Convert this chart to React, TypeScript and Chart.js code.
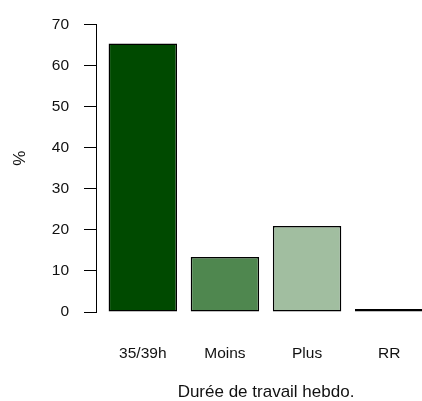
import React, { useEffect, useRef } from "react";
import { Chart, registerables } from "chart.js";

Chart.register(...registerables);

// ---- data ----
const categories = ["35/39h", "Moins", "Plus", "RR"];
const values = [65.3, 13.4, 20.9, 0.7];
const barColors = ["#004a00", "#4f874f", "#a1bea0", "#000000"];
const yTicks = [0, 10, 20, 30, 40, 50, 60, 70];
const xTitle = "Durée de travail hebdo.";
const yTitle = "%";

// R barplot geometry: bar width 1, space 0.2, 4% axis expansion
const BAR_WIDTH = 1;
const SPACE = 0.2;
const centers = categories.map((_, i) => SPACE + BAR_WIDTH / 2 + i * (BAR_WIDTH + SPACE));
const xLo = SPACE;
const xHi = categories.length * (BAR_WIDTH + SPACE);
const xPad = (xHi - xLo) * 0.04;

const FONT = "'Liberation Sans', Arial, Helvetica, sans-serif";
const TEXT = "#111111";

// y-axis title drawn rotated, slightly above the plot centre (as in the R output)
const yTitlePlugin = {
  id: "yTitlePlugin",
  afterDraw(chart: any) {
    const { ctx, chartArea } = chart;
    const cy = (chartArea.top + chartArea.bottom) / 2 - 10;
    ctx.save();
    ctx.translate(20, cy);
    ctx.rotate(-Math.PI / 2);
    ctx.font = `17px ${FONT}`;
    ctx.fillStyle = TEXT;
    ctx.textAlign = "center";
    ctx.textBaseline = "middle";
    ctx.fillText(yTitle, 0, 0);
    ctx.restore();
  },
};

export default function App() {
  const ref = useRef<HTMLCanvasElement | null>(null);

  useEffect(() => {
    if (!ref.current) return;
    const chart = new Chart(ref.current, {
      type: "bar",
      data: {
        datasets: [
          {
            data: centers.map((x, i) => ({ x, y: values[i] })),
            backgroundColor: barColors,
            borderColor: "#000000",
            borderWidth: 1.5,
            borderSkipped: false,
            barPercentage: BAR_WIDTH / (BAR_WIDTH + SPACE),
            categoryPercentage: 1,
          },
        ],
      },
      plugins: [yTitlePlugin],
      options: {
        animation: false,
        responsive: false,
        devicePixelRatio: 1,
        layout: { padding: { top: 22, right: 4, bottom: 0, left: 0 } },
        plugins: { legend: { display: false }, tooltip: { enabled: false } },
        scales: {
          x: {
            type: "linear",
            offset: false,
            min: xLo - xPad,
            max: xHi + xPad,
            afterBuildTicks: (s: any) => {
              s.ticks = centers.map((v) => ({ value: v }));
            },
            afterFit: (s: any) => {
              s.height = 89;
            },
            ticks: {
              callback: (_v: any, i: number) => categories[i],
              autoSkip: false,
              maxRotation: 0,
              padding: 32,
              color: TEXT,
              font: { family: FONT, size: 15.5 },
            },
            grid: { display: false, drawTicks: false, offset: false },
            border: { display: false },
            title: {
              display: true,
              text: xTitle,
              color: TEXT,
              padding: { top: 0, bottom: 0 },
              font: { family: FONT, size: 17, lineHeight: 1 },
            },
          },
          y: {
            min: 0,
            max: 70,
            afterBuildTicks: (s: any) => {
              s.ticks = yTicks.map((v) => ({ value: v }));
            },
            afterFit: (s: any) => {
              s.width = 96;
            },
            ticks: {
              padding: 15,
              color: TEXT,
              font: { family: FONT, size: 15.5 },
            },
            grid: {
              drawOnChartArea: false,
              drawTicks: true,
              tickLength: 12,
              color: "#000000",
              lineWidth: 1,
            },
            border: { display: true, color: "#000000", width: 1 },
            title: { display: false },
          },
        },
      },
    } as any);
    return () => chart.destroy();
  }, []);

  return (
    <div
      style={{
        position: "absolute",
        left: 0,
        top: 0,
        width: 422,
        height: 401,
        overflow: "hidden",
        background: "#ffffff",
      }}
    >
      <canvas ref={ref} width={440} height={401} style={{ display: "block" }} />
    </div>
  );
}
